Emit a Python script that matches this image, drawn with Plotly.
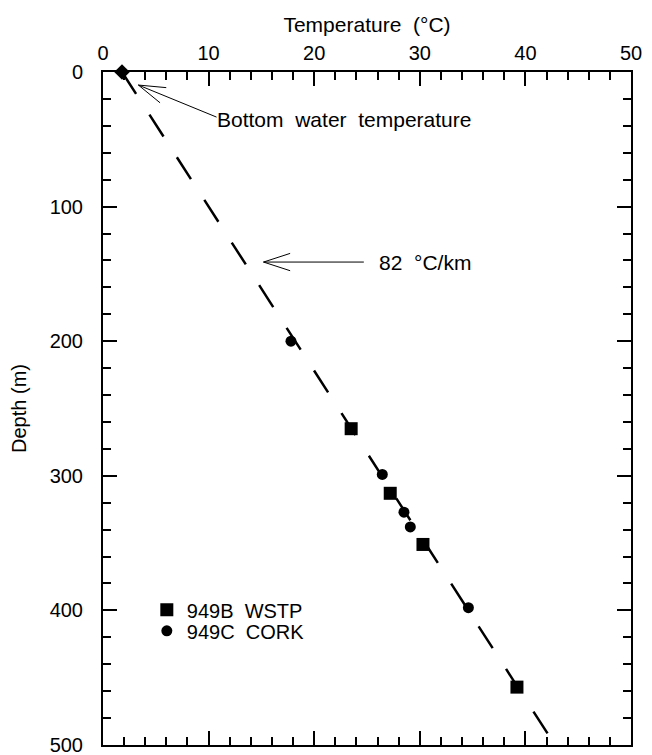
import plotly.graph_objects as go
import math

# ---- data ----
wstp_temp = [23.5, 27.2, 30.3, 39.2]
wstp_depth = [265, 313, 351, 457]
cork_temp = [17.8, 26.45, 28.5, 29.1, 34.6]
cork_depth = [200, 299, 327, 338, 398]
bottom_temp = [1.8]
bottom_depth = [0]
gradient_c_per_km = 82
line_depths = [0, 500]
line_temps = [bottom_temp[0] + gradient_c_per_km * d / 1000 for d in line_depths]

# ---- layout geometry ----
W, H = 652, 755
ML, MR, MT, MB = 103, 21, 72, 10
XR = (0, 50)
YR = (500, 0)
pxx = (W - ML - MR) / (XR[1] - XR[0])   # px per degC
pxy = (H - MT - MB) / (YR[0] - YR[1])   # px per m

FONT = "Liberation Sans, Arial, sans-serif"
FS = 20

fig = go.Figure()

fig.add_trace(go.Scatter(
    x=line_temps, y=line_depths, mode="lines",
    line=dict(color="black", width=2.5, dash="26px,24.7px"),
    showlegend=False, hoverinfo="skip"))

fig.add_trace(go.Scatter(
    x=wstp_temp, y=wstp_depth, mode="markers", name="949B  WSTP",
    legend="legend",
    marker=dict(symbol="square", size=13, color="black")))

fig.add_trace(go.Scatter(
    x=cork_temp, y=cork_depth, mode="markers", name="949C  CORK",
    legend="legend2",
    marker=dict(symbol="circle", size=11, color="black")))

fig.add_trace(go.Scatter(
    x=bottom_temp, y=bottom_depth, mode="markers", showlegend=False,
    cliponaxis=False,
    marker=dict(symbol="diamond", size=12, color="black")))


def arrow(tip, tail, head_len=28, head_ang=17):
    """tip/tail in data coords; returns shapes for shaft + open head."""
    tx, ty = tip
    sx, sy = tail
    dx = (sx - tx) * pxx
    dy = (sy - ty) * pxy
    ang = math.atan2(dy, dx)
    shapes = [dict(type="line", xref="x", yref="y", x0=tx, y0=ty, x1=sx, y1=sy,
                   line=dict(color="black", width=1))]
    for s in (-1, 1):
        a = ang + s * math.radians(head_ang)
        hx = tx + head_len * math.cos(a) / pxx
        hy = ty + head_len * math.sin(a) / pxy
        shapes.append(dict(type="line", xref="x", yref="y", x0=tx, y0=ty, x1=hx, y1=hy,
                           line=dict(color="black", width=1)))
    return shapes

shapes = []
shapes += arrow((3.35, 9.7), (10.75, 33.5))
shapes += arrow((15.2, 141.2), (24.7, 141.2), head_ang=18)

annotations = [
    dict(x=10.75, y=35.5, xref="x", yref="y", text="Bottom  water  temperature",
         showarrow=False, xanchor="left", yanchor="middle", xshift=-2,
         font=dict(family=FONT, size=21, color="black")),
    dict(x=26.1, y=141.2, xref="x", yref="y", text="82  °C/km",
         showarrow=False, xanchor="left", yanchor="middle", xshift=-2,
         font=dict(family=FONT, size=21, color="black")),
]

axis_common = dict(
    showline=True, linewidth=2, linecolor="black", mirror="ticks",
    ticks="inside", ticklen=14, tickwidth=2, tickcolor="black",
    showgrid=False, zeroline=False, automargin=False,
    ticklabeloverflow="allow",
    tickfont=dict(family=FONT, size=FS, color="black"),
)

legend_common = dict(xanchor="left", yanchor="top", bgcolor="rgba(0,0,0,0)",
                     font=dict(family=FONT, size=FS), itemwidth=30)

fig.update_layout(
    template="none",
    width=W, height=H,
    margin=dict(l=ML, r=MR, t=MT, b=MB, autoexpand=False),
    plot_bgcolor="white", paper_bgcolor="white",
    font=dict(family=FONT, size=FS, color="black"),
    xaxis=dict(range=list(XR), side="top", dtick=10, tick0=0, ticklabelstandoff=2,
               minor=dict(dtick=2, ticks="inside", ticklen=8, tickwidth=2, tickcolor="black"),
               title=dict(text="Temperature  (°C)", font=dict(family=FONT, size=21), standoff=4),
               **axis_common),
    yaxis=dict(range=list(YR), dtick=100, tick0=0, ticklabelstandoff=14,
               minor=dict(dtick=20, ticks="inside", ticklen=8, tickwidth=2, tickcolor="black"),
               title=dict(text="Depth (m)", font=dict(family=FONT, size=FS), standoff=18),
               **axis_common),
    legend=dict(x=0.083, y=0.2299, **legend_common),
    legend2=dict(x=0.083, y=0.1987, **legend_common),
    showlegend=True,
    shapes=shapes,
    annotations=annotations,
)

fig.write_html("out.html", config={"displayModeBar": False},
               post_script="document.body.style.margin='0';document.body.style.padding='0';")
